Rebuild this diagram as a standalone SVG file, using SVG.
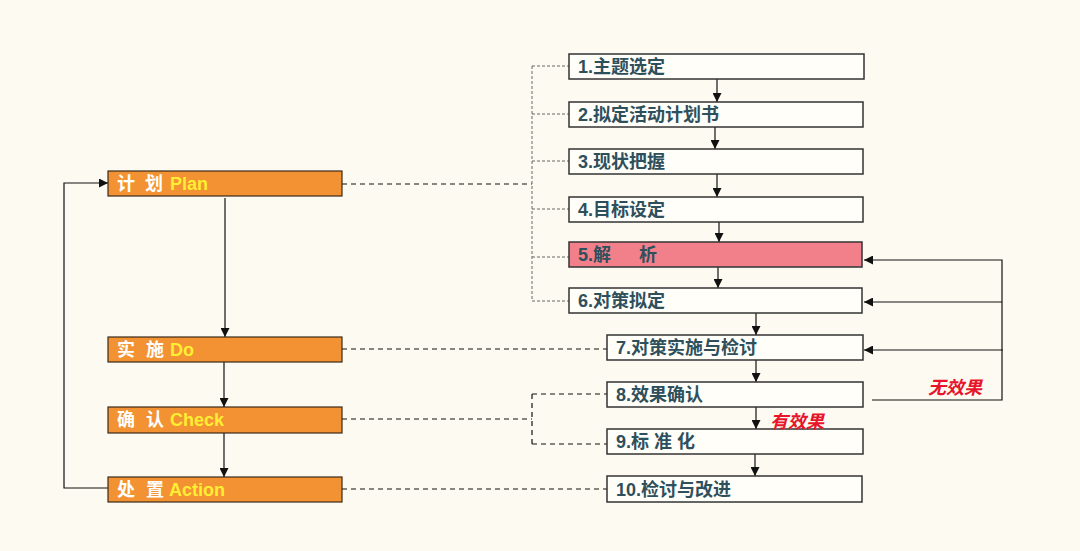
<svg xmlns="http://www.w3.org/2000/svg" width="1080" height="551" viewBox="0 0 1080 551">
<defs>
<marker id="ah" viewBox="0 0 10 10" refX="10" refY="5" markerWidth="9" markerHeight="9" markerUnits="userSpaceOnUse" orient="auto"><path d="M0,0 L10,5 L0,10 z" fill="#111"/></marker>
</defs>
<style>
.bg{fill:#fdfbf1}
.stage{fill:#f29232;stroke:#3a2a1a;stroke-width:1.2}
.step{fill:#fffef8;stroke:#333;stroke-width:1.5}
.step5{fill:#f1808a;stroke:#333;stroke-width:1.5}
.st{font-family:"Liberation Sans","Noto Sans CJK SC",sans-serif;font-weight:bold;font-size:18px;fill:#2e4f5c}
.lt{font-family:"Liberation Sans","Noto Sans CJK SC",sans-serif;font-weight:bold;font-size:18px;fill:#ffffff}
.en{fill:#ffee33}
.red{font-family:"Noto Sans CJK SC",sans-serif;font-weight:bold;font-style:italic;font-size:18px;fill:#e8142a}
.arr{stroke:#111;stroke-width:1.2;fill:none;marker-end:url(#ah)}
.dash{stroke:#111;stroke-width:1.2;fill:none;stroke-dasharray:5,4}
.dot{stroke:#666;stroke-width:1;fill:none;stroke-dasharray:3,2}
</style>
<rect class="bg" x="0" y="0" width="1080" height="551"/>
<g id="connectors">
<path class="dash" d="M342,184 H532"/>
<path class="dot" d="M532,66 V301 M532,66 H569 M532,114 H569 M532,161 H569 M532,209 H569 M532,257 H569 M532,301 H569"/>
<path class="dash" d="M342,349 H616"/>
<path class="dash" d="M342,419 H532 M532,394 V444 M532,394 H607 M532,444 H607"/>
<path class="dash" d="M342,489 H607"/>
<path class="arr" d="M225,198 V337"/>
<path class="arr" d="M224,362 V407"/>
<path class="arr" d="M224,433 V477"/>
<path class="arr" d="M108,488 H64 V183 H108"/>
<path class="arr" d="M717,79 V102"/>
<path class="arr" d="M715,127 V149"/>
<path class="arr" d="M717,174 V197"/>
<path class="arr" d="M719,222 V242"/>
<path class="arr" d="M718,267 V288"/>
<path class="arr" d="M756,313 V335"/>
<path class="arr" d="M756,360 V382"/>
<path class="arr" d="M756,407 V429"/>
<path class="arr" d="M755,454 V476"/>
<path class="arr" d="M872,400 H1002 V260 H864"/>
<path class="arr" d="M1002,302 H864"/>
<path class="arr" d="M1003,350 H864"/>
</g>
<g id="plan"><rect class="stage" x="108" y="171" width="234" height="25" stroke="none"/><text class="lt" x="117" y="190">计<tspan x="145">划</tspan><tspan class="en" x="170">Plan</tspan></text></g>
<g id="do"><rect class="stage" x="108" y="337" width="234" height="25"/><text class="lt" x="117" y="356">实<tspan x="146">施</tspan><tspan class="en" x="170">Do</tspan></text></g>
<g id="check"><rect class="stage" x="108" y="407" width="234" height="26"/><text class="lt" x="117" y="426">确<tspan x="146">认</tspan><tspan class="en" x="170">Check</tspan></text></g>
<g id="action"><rect class="stage" x="108" y="477" width="234" height="25"/><text class="lt" x="117" y="496">处<tspan x="146">置</tspan><tspan class="en" x="169">Action</tspan></text></g>
<g id="s1"><rect class="step" x="569" y="54" width="295" height="25"/><text class="st" x="578" y="73">1.主题选定</text></g>
<g id="s2"><rect class="step" x="569" y="102" width="294" height="25"/><text class="st" x="578" y="121">2.拟定活动计划书</text></g>
<g id="s3"><rect class="step" x="569" y="149" width="294" height="25"/><text class="st" x="578" y="168">3.现状把握</text></g>
<g id="s4"><rect class="step" x="569" y="197" width="294" height="25"/><text class="st" x="578" y="216">4.目标设定</text></g>
<g id="s5"><rect class="step5" x="569" y="242" width="293" height="25"/><text class="st" x="578" y="261">5.解<tspan x="639">析</tspan></text></g>
<g id="s6"><rect class="step" x="569" y="288" width="293" height="25"/><text class="st" x="578" y="307">6.对策拟定</text></g>
<g id="s7"><rect class="step" x="607" y="335" width="256" height="25"/><text class="st" x="616" y="354">7.对策实施与检讨</text></g>
<g id="s8"><rect class="step" x="607" y="382" width="256" height="25"/><text class="st" x="616" y="401">8.效果确认</text></g>
<g id="s9"><rect class="step" x="607" y="429" width="256" height="25"/><text class="st" x="616" y="448">9.标 准 化</text></g>
<g id="s10"><rect class="step" x="607" y="476" width="255" height="26"/><text class="st" x="616" y="496">10.检讨与改进</text></g>
<g id="labels">
<text class="red" x="928" y="394">无效果</text>
<text class="red" x="770" y="428">有效果</text>
</g>
</svg>
